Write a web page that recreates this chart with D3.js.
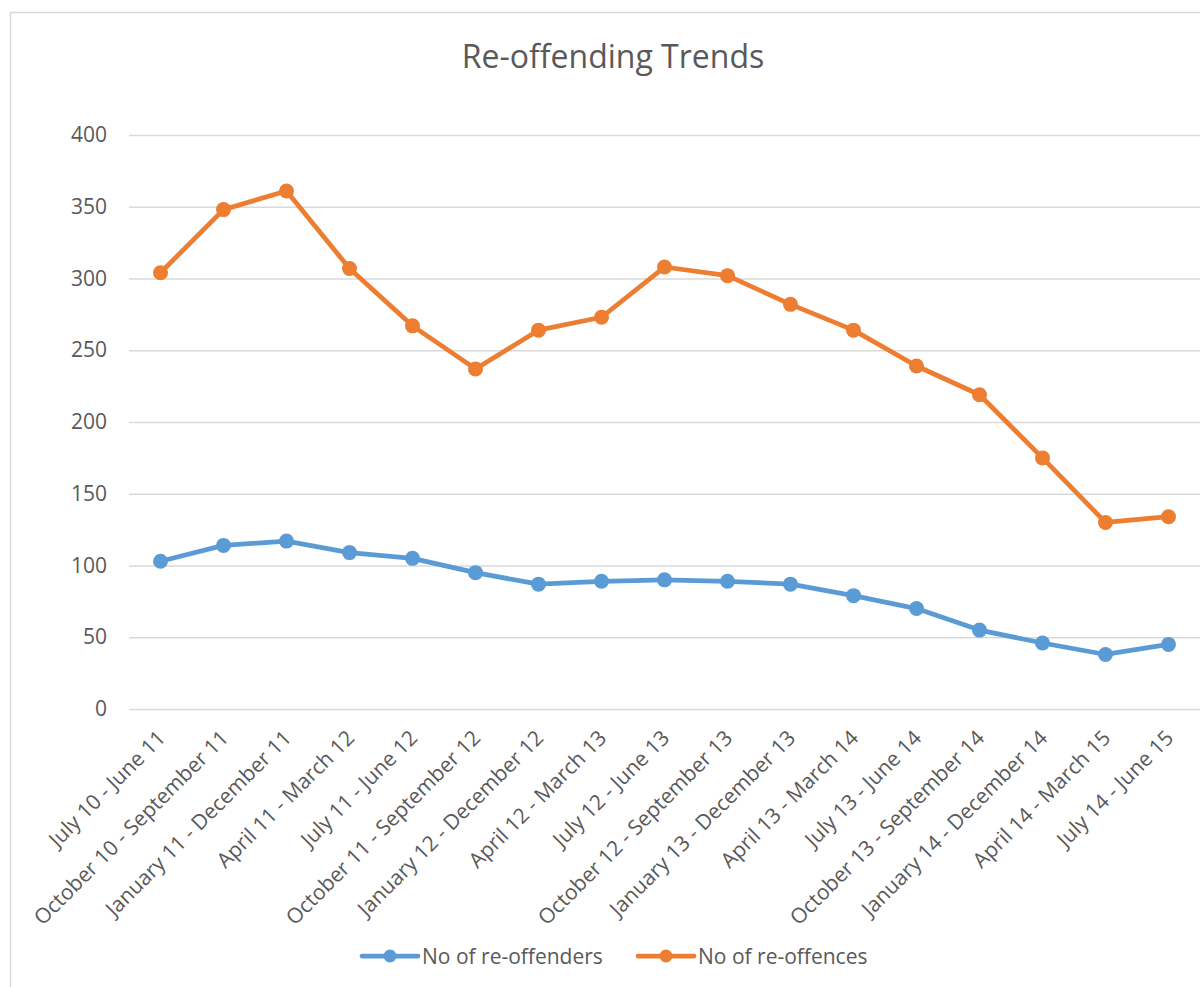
<!DOCTYPE html>
<html><head><meta charset="utf-8">
<script src="https://cdn.jsdelivr.net/npm/d3@7"></script>
<style>
html,body{margin:0;padding:0;background:#fff;overflow:hidden}
text{font-family:"Open Sans",Lato,sans-serif}
</style></head>
<body>
<svg id="chart" width="1200" height="987"></svg>
<script>
const categories = ["July 10 - June 11","October 10 - September 11","January 11 - December 11","April 11 - March 12","July 11 - June 12","October 11 - September 12","January 12 - December 12","April 12 - March 13","July 12 - June 13","October 12 - September 13","January 13 - December 13","April 13 - March 14","July 13 - June 14","October 13 - September 14","January 14 - December 14","April 14 - March 15","July 14 - June 15"];
const reOffenders = [103,114,117,109,105,95,87,89,90,89,87,79,70,55,46,38,45];
const reOffences = [304,348,361,307,267,237,264,273,308,302,282,264,239,219,175,130,134];
const yTicks = [0,50,100,150,200,250,300,350,400];
const seriesNames = ["No of re-offenders","No of re-offences"];
const seriesColors = ["#5B9BD5","#ED7D31"];
const title = "Re-offending Trends";

(function(){
const FONT = "'Open Sans'";
const svg = d3.select("#chart");
svg.append("rect").attr("width",1200).attr("height",987).attr("fill","#fff");
svg.append("rect").attr("x",10.5).attr("y",12.5).attr("width",1300).attr("height",1100)
  .attr("fill","none").attr("stroke","#d9d9d9").attr("stroke-width",1.5);

const pL=129, pR=1200, pT=135, pB=709;
const x = d3.scaleBand().domain(categories).range([pL,pR]).padding(0);
const cx = c => x(c)+x.bandwidth()/2;
const y = d3.scaleLinear().domain([0,400]).range([pB,pT]);

svg.append("text").attr("x",613).attr("y",68).attr("text-anchor","middle")
  .attr("font-size",32).attr("fill","#595959").attr("font-family",FONT).text(title);

const yAxis = d3.axisLeft(y).tickValues(yTicks).tickSize(-(pR-pL)).tickPadding(22).tickFormat(d3.format("d"));
const gy = svg.append("g").attr("transform",`translate(${pL},0)`).call(yAxis);
gy.select(".domain").remove();
gy.selectAll(".tick line").attr("stroke","#d9d9d9").attr("stroke-width",1.5);
gy.selectAll(".tick text").attr("fill","#595959").attr("font-size",21).attr("font-family",FONT);

const xAxis = d3.axisBottom(x).tickSize(0).tickPadding(0);
const gx = svg.append("g").attr("transform",`translate(0,${pB})`).call(xAxis);
gx.select(".domain").remove();
gx.selectAll(".tick text").attr("fill","#595959").attr("font-size",21).attr("font-family",FONT)
  .attr("text-anchor","end").attr("dy","0.35em").attr("y",0)
  .attr("transform","translate(1,25) rotate(-45)");

const data = [reOffenders, reOffences];
const line = d3.line().x((d,i)=>cx(categories[i])).y(d=>y(d));
data.forEach((vals,si)=>{
  svg.append("path").datum(vals).attr("d",line).attr("fill","none")
    .attr("stroke",seriesColors[si]).attr("stroke-width",4.75).attr("stroke-linejoin","round").attr("stroke-linecap","round");
  svg.append("g").selectAll("circle").data(vals).join("circle")
    .attr("cx",(d,i)=>cx(categories[i])).attr("cy",d=>y(d)).attr("r",7.5).attr("fill",seriesColors[si]);
});

const legendX = [362, 638];
const ly = 956;
seriesNames.forEach((n,i)=>{
  const g = svg.append("g");
  g.append("line").attr("x1",legendX[i]).attr("x2",legendX[i]+56).attr("y1",ly).attr("y2",ly)
    .attr("stroke",seriesColors[i]).attr("stroke-width",4.75).attr("stroke-linecap","round");
  g.append("circle").attr("cx",legendX[i]+28).attr("cy",ly).attr("r",6.5).attr("fill",seriesColors[i]);
  g.append("text").attr("x",legendX[i]+60).attr("y",ly+8).attr("font-family",FONT)
    .attr("font-size",21).attr("fill","#595959").text(n);
});
})();
</script>
</body></html>
